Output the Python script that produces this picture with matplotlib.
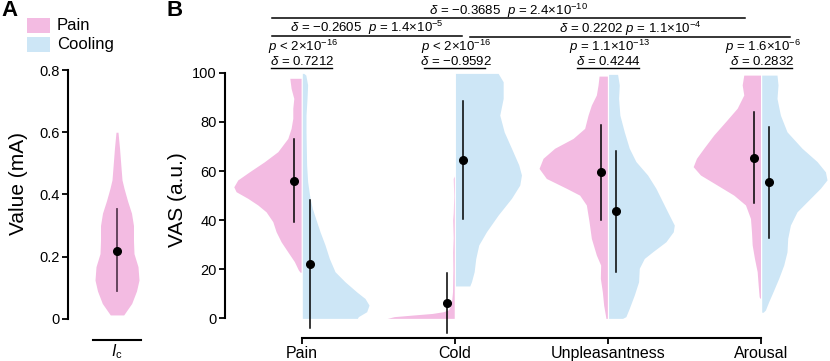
import matplotlib

matplotlib.use("Agg")
import matplotlib.pyplot as plt
from matplotlib.patches import Rectangle

plt.rcParams["font.family"] = ["Liberation Sans", "DejaVu Sans"]
plt.rcParams["mathtext.fontset"] = "custom"
plt.rcParams["mathtext.rm"] = "Liberation Sans"
plt.rcParams["mathtext.it"] = "Liberation Sans:italic"
plt.rcParams["mathtext.bf"] = "Liberation Sans:bold"

PINK = "#f3bbe2"
BLUE = "#cde6f6"

# ---- panel A: current threshold I_c (full violin), half-widths in px ----
ic_v = [0.013, 0.05, 0.09, 0.125, 0.168, 0.21, 0.25, 0.30, 0.34, 0.38, 0.42, 0.447, 0.5, 0.55, 0.6]
ic_w = [6.7, 14.7, 19.5, 22.0, 21.0, 17.0, 16.5, 16.5, 14.5, 10.5, 7.0, 5.0, 3.7, 2.5, 1.0]
ic_mean, ic_lo, ic_hi = 0.22, 0.09, 0.355

# ---- panel B: VAS ratings, split violins (half-widths in px) ----
categories = ["Pain", "Cold", "Unpleasantness", "Arousal"]

pain_v = [
    [97.8, 93.7, 89.6, 85.6, 81.5, 77.4, 73.3, 67.9, 63.8, 59.7, 56.4, 53.6, 51.6,
     48.9, 46.2, 43.4, 39.4, 35.3, 31.2, 27.1, 23.1, 19.7, 18.8],
    [58.0, 57.0, 50.0, 43.0, 40.0, 33.0, 27.0, 20.0, 10.9, 7.5, 4.8, 3.4, 2.7, 2.0,
     1.4, 0.7, 0.0],
    [98.7, 95.1, 91.0, 86.9, 82.8, 77.4, 73.3, 69.3, 65.2, 61.1, 57.0, 53.0, 50.2,
     46.2, 39.4, 32.6, 25.8, 21.7, 16.3, 10.8, 5.4, 0.7, 0.0],
    [99.1, 95.1, 91.0, 85.6, 80.1, 74.7, 69.3, 65.2, 61.8, 58.4, 54.3, 50.2, 46.2,
     40.7, 35.3, 29.9, 24.4, 19.0, 13.6, 8.8, 8.2],
]
pain_w = [
    [11.3, 10.0, 7.3, 8.3, 8.3, 10.0, 13.3, 23.3, 36.7, 51.7, 63.3, 67.3, 65.0,
     53.3, 43.3, 35.0, 28.3, 25.0, 20.0, 13.3, 6.7, 2.7, 1.0],
    [0.0, 1.0, 0.5, 1.0, 1.5, 1.0, 1.5, 1.3, 1.7, 2.5, 4.0, 6.0, 11.0, 22.0,
     40.0, 60.0, 67.0],
    [8.3, 9.3, 11.0, 16.0, 19.3, 22.7, 34.3, 52.7, 64.3, 68.3, 61.0, 41.0, 27.7,
     21.0, 18.3, 16.0, 11.0, 6.7, 7.0, 5.0, 3.7, 1.7, 1.5],
    [16.7, 18.3, 16.7, 23.3, 35.0, 46.7, 56.7, 64.0, 67.3, 60.0, 43.3, 26.7, 15.0,
     10.0, 9.0, 8.3, 6.0, 3.3, 2.3, 1.3, 0.5],
]
cool_v = [
    [99.8, 99.1, 95.1, 89.6, 82.8, 76.0, 69.3, 62.5, 55.7, 48.9, 44.8, 40.7, 35.3,
     29.9, 24.4, 19.0, 14.9, 10.8, 8.1, 5.4, 2.7, 0.7, 0.0],
    [99.8, 96.4, 89.6, 82.8, 76.0, 69.3, 62.5, 58.4, 54.3, 48.9, 42.1, 35.3, 29.9,
     24.4, 19.0, 14.9, 13.2],
    [99.4, 95.1, 89.6, 82.8, 76.0, 69.3, 63.9, 58.4, 53.0, 48.9, 43.4, 38.0, 35.3,
     31.2, 27.1, 24.4, 20.4, 14.9, 9.5, 4.1, 0.7, 0.0],
    [99.1, 95.1, 89.6, 82.8, 76.0, 69.3, 63.9, 59.7, 56.4, 53.0, 48.9, 43.4, 38.0,
     32.6, 27.1, 21.7, 16.3, 10.8, 6.8, 3.4, 2.5],
]
cool_w = [
    [1.5, 3.5, 5.3, 4.7, 3.7, 3.7, 4.0, 4.3, 5.3, 7.7, 10.0, 13.3, 17.7, 22.7,
     27.0, 32.7, 42.7, 54.3, 62.7, 66.7, 64.3, 56.0, 55.0],
    [42.7, 47.7, 47.7, 44.3, 48.7, 56.0, 63.3, 66.0, 64.3, 56.0, 42.7, 31.0, 23.3,
     20.3, 18.7, 16.0, 14.3],
    [9.0, 10.7, 10.0, 11.3, 15.7, 20.7, 27.3, 39.0, 47.3, 52.3, 59.0, 65.7, 64.7,
     57.3, 44.0, 35.7, 30.7, 30.0, 25.7, 20.7, 17.3, 14.0],
    [15.3, 16.3, 15.3, 18.7, 25.3, 40.3, 55.3, 63.7, 65.3, 58.7, 48.7, 35.3, 28.7,
     26.0, 25.3, 22.0, 17.0, 11.3, 7.0, 3.7, 1.5],
]

pain_mean = [56.1, 6.2, 59.5, 65.5]
pain_lo = [39.4, -6.1, 40.1, 46.9]
pain_hi = [73.1, 18.3, 78.8, 83.9]
cool_mean = [22.1, 64.5, 43.7, 55.4]
cool_lo = [-3.8, 40.3, 19.0, 32.9]
cool_hi = [48.2, 88.5, 68.2, 78.1]

within_p = [r"$p$ < 2×10$^{-16}$", r"$p$ < 2×10$^{-16}$",
            r"$p$ = 1.1×10$^{-13}$", r"$p$ = 1.6×10$^{-6}$"]
within_d = [r"$\delta$ = 0.7212", r"$\delta$ = −0.9592",
            r"$\delta$ = 0.4244", r"$\delta$ = 0.2832"]
# between-category comparison brackets
between_left = [-0.196, -0.196, 1.099]
between_right = [2.895, 1.049, 3.190]
between_y = [122.2, 115.0, 114.6]
between_text = [r"$\delta$ = −0.3685  $p$ = 2.4×10$^{-10}$",
                r"$\delta$ = −0.2605  $p$ = 1.4×10$^{-5}$",
                r"$\delta$ = 0.2202 $p$ = 1.1×10$^{-4}$"]

W, H = 830, 361
fig = plt.figure(figsize=(W / 100, H / 100), dpi=100)

# ---------------- panel A ----------------
axA = fig.add_axes([68 / W, 21 / H, 77 / W, 270 / H])
pxA = 100.0  # px per x-unit in panel A
axA.fill_betweenx(ic_v, [-w / pxA for w in ic_w], [w / pxA for w in ic_w],
                  color=PINK, lw=0)
axA.plot([0, 0], [ic_lo, ic_hi], color="#5a3b52", lw=1.3)
axA.plot([0], [ic_mean], "o", color="black", ms=5.5)
axA.set_xlim(-0.49, 0.28)
axA.set_ylim(-0.0675, 0.8)
axA.spines[["top", "right"]].set_visible(False)
axA.spines["left"].set_bounds(0, 0.8)
axA.spines["bottom"].set_bounds(-0.24, 0.24)
axA.set_yticks([0, 0.2, 0.4, 0.6, 0.8])
axA.set_yticklabels(["0", "0.2", "0.4", "0.6", "0.8"])
axA.set_xticks([0])
axA.set_xticklabels([r"$I_\mathrm{c}$"], fontsize=11.5)
axA.tick_params(axis="x", length=0, pad=2)
axA.tick_params(axis="y", labelsize=10.5, width=1.3, length=4, pad=2)
for s in ("left", "bottom"):
    axA.spines[s].set_linewidth(1.5)
axA.set_ylabel("Value (mA)", fontsize=15)
axA.yaxis.set_label_coords(-0.52, 0.578)

# ---------------- panel B ----------------
axB = fig.add_axes([225 / W, 23 / H, 605 / W, 338 / H])
pxB = 153.1  # px per category unit
gap = 0.004
for i in range(len(categories)):
    axB.fill_betweenx(pain_v[i], [i - gap - w / pxB for w in pain_w[i]], i - gap,
                      color=PINK, lw=0)
    axB.fill_betweenx(cool_v[i], i + gap, [i + gap + w / pxB for w in cool_w[i]],
                      color=BLUE, lw=0)
    xp, xc = i - 0.048, i + 0.054
    axB.plot([xp, xp], [pain_lo[i], pain_hi[i]], color="black", lw=1.1)
    axB.plot([xc, xc], [cool_lo[i], cool_hi[i]], color="black", lw=1.1)
    axB.plot([xp], [pain_mean[i]], "o", color="black", ms=5.5)
    axB.plot([xc], [cool_mean[i]], "o", color="black", ms=5.5)

    # within-category stats
    axB.text(i + 0.01, 108.9, within_p[i], ha="center", va="baseline", fontsize=9.5)
    axB.text(i + 0.005, 103.2, within_d[i], ha="center", va="baseline", fontsize=9.5)
    axB.plot([i - 0.2, i + 0.2], [102.1, 102.1], color="black", lw=1.0, clip_on=False)

for x0, x1, y, t in zip(between_left, between_right, between_y, between_text):
    axB.plot([x0, x1], [y, y], color="black", lw=1.1, clip_on=False)
    axB.text((x0 + x1) / 2, y + 1.5, t, ha="center", va="baseline", fontsize=9.5)

axB.set_xlim(-0.501, 3.45)
axB.set_ylim(-8.0, 129.7)
axB.spines[["top", "right"]].set_visible(False)
axB.spines["left"].set_bounds(0, 100)
axB.spines["bottom"].set_bounds(0, 3)
for s in ("left", "bottom"):
    axB.spines[s].set_linewidth(1.5)
axB.set_yticks([0, 20, 40, 60, 80, 100])
axB.set_xticks(range(len(categories)))
axB.set_xticklabels(categories, fontsize=11.5)
axB.tick_params(axis="y", labelsize=10.5, width=1.3, length=4, pad=2)
axB.tick_params(axis="x", width=1.3, length=4, pad=2)
axB.set_ylabel("VAS (a.u.)", fontsize=15)
axB.yaxis.set_label_coords(-0.063, 0.408)

# ---------------- legend & panel letters ----------------
for y0, color, label in [(18, PINK, "Pain"), (37, BLUE, "Cooling")]:
    fig.add_artist(Rectangle((27 / W, 1 - (y0 + 15) / H), 23 / W, 15 / H,
                             transform=fig.transFigure, color=color, lw=0))
    fig.text(57 / W, 1 - (y0 + 7.5) / H, label, fontsize=12, va="center")

fig.text(1 / W, 1 - 10 / H, "A", fontsize=16, fontweight="bold", va="center")
fig.text(166 / W, 1 - 10 / H, "B", fontsize=16, fontweight="bold", va="center")

fig.savefig("out.png", dpi=100)
